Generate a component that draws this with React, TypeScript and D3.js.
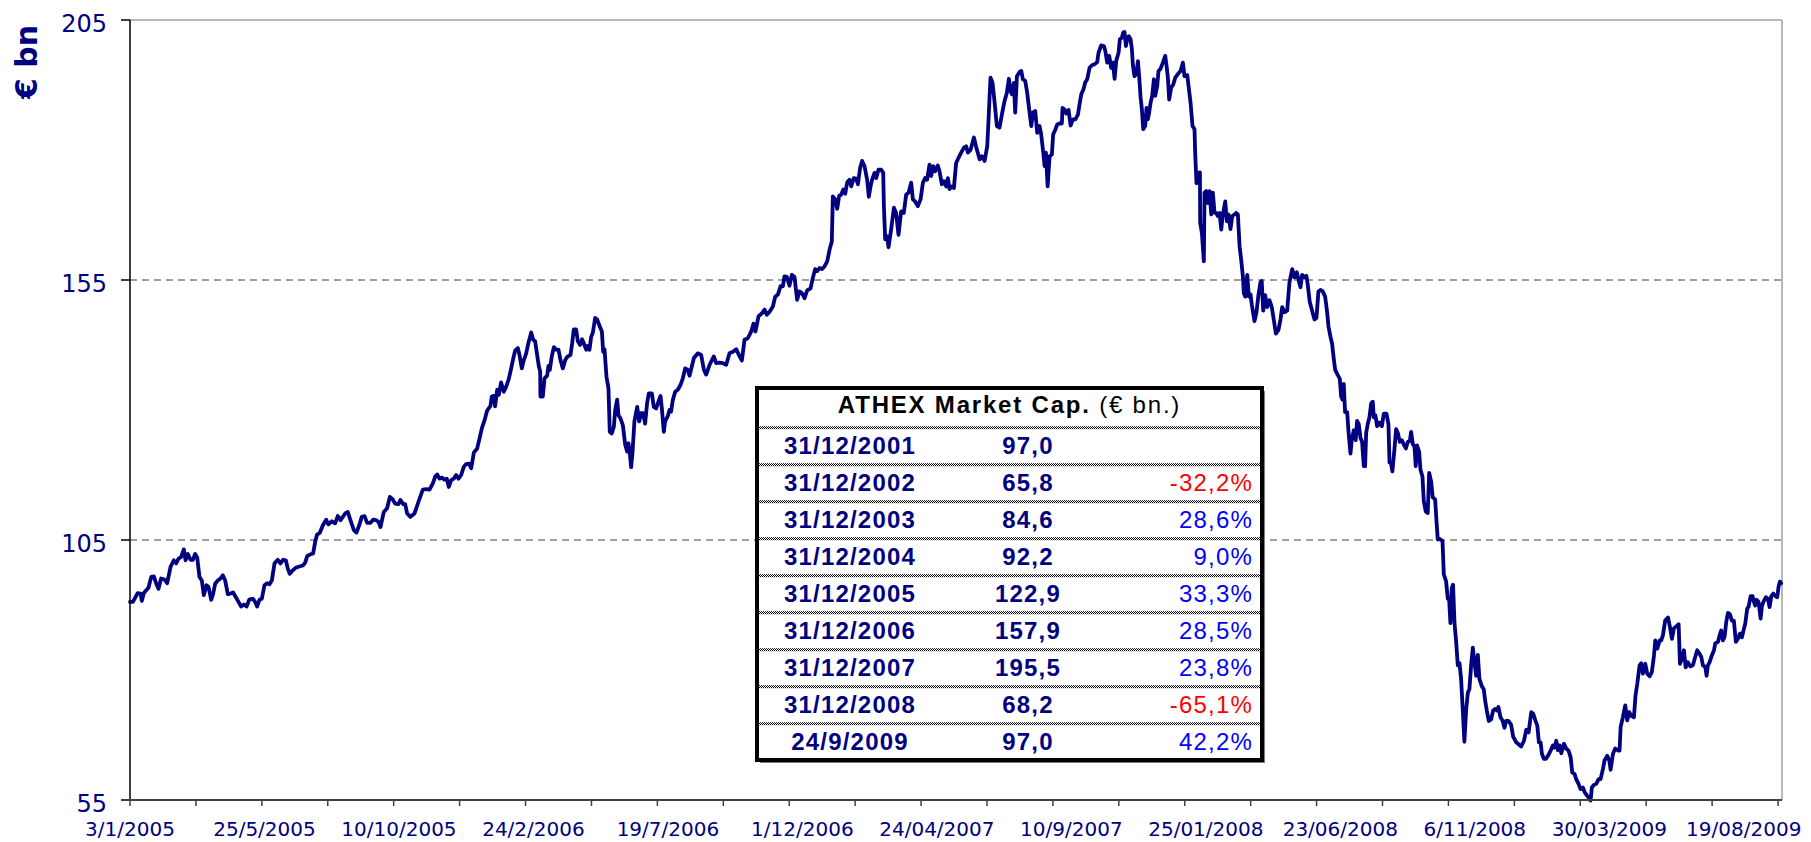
import React from 'react';
import * as d3 from 'd3';

// ATHEX market capitalisation (€ bn), trading-day index from 3/1/2005
const capSeries: [number, number][] = [
  [0,93.1],[2.2,93.1],[5.9,94.8],[8,94.7],[9,93.3],[10.5,94.8],[14,95.8],[16.1,97.9],[18.1,98.0],[19.8,96.7],[21.6,95.6],[23.6,97.6],[26.2,97.4],[28.2,96.7],[30.7,99.8],[33.2,101.1],[35,100.5],[36.8,101.4],[38.8,101.75],[40.8,103.2],[42.1,101.1],[43.9,102.3],[45.9,101.2],[47.7,101.2],[49.4,102.3],[51,101.6],[52.7,97.9],[54.5,97.2],[56,94.4],[58,96.3],[59.5,96.0],[61.6,93.5],[63.1,94.7],[64.6,96.6],[66.6,97.2],[68.6,97.6],[70.4,98.2],[72.2,97.2],[74.2,94.6],[76.2,94.7],[78.2,94.9],[80.3,94.0],[82.3,93.1],[84.3,92.2],[86.3,92.6],[88.4,92.2],[90.6,93.6],[93.2,93.7],[94.9,93.1],[96.4,92.2],[98.2,93.5],[100,93.7],[102,96.3],[104,96.7],[105.8,96.5],[107.6,97.2],[109.6,100.5],[112.1,101.2],[114.1,100.5],[116.2,101.2],[118.2,101.1],[119.7,99.5],[121.2,98.5],[123.5,99.2],[126,99.7],[128.5,99.9],[131.1,100.1],[132.8,100.6],[134.4,101.9],[136.4,102.2],[138.9,102.4],[140.4,104.6],[141.9,106.05],[144,106.4],[146.2,107.8],[148.8,108.9],[150.5,108.0],[153.1,108.6],[155.6,108.2],[157.6,109.6],[159.7,108.8],[161.4,109.45],[163.2,110.1],[165.2,110.4],[167.2,108.8],[169.8,106.9],[171.8,106.4],[173.8,107.8],[175.8,109.45],[177.9,109.6],[179.9,108.3],[182.4,108.3],[184.4,108.9],[186.7,108.8],[188.5,108.5],[190,107.5],[192.5,110.4],[195,111.1],[197.1,113.3],[199.3,112.8],[201.1,112.0],[203.6,111.9],[205.1,112.7],[207.2,111.9],[208.7,111.9],[210.2,110.1],[212.7,109.45],[215.8,110.1],[219,112.5],
  [222.1,114.7],[224.6,114.8],[227.2,114.7],[229.7,115.9],[231.5,117.2],[233,117.6],[234.7,116.8],[236.5,117.0],[238.5,116.6],[240.3,116.8],[241.8,115.2],[243.6,116.5],[245.6,116.8],[247.4,117.5],[249.2,116.8],[251.2,117.5],[253.2,119.1],[255,119.6],[257,119.7],[258.8,118.8],[260.8,121.8],[263.3,122.6],[265.1,124.5],[266.9,126.5],[268.9,128.0],[270.9,129.9],[273.4,130.8],[274.4,132.6],[275.9,132.7],[276.9,130.7],[278.5,133.9],[279.7,132.9],[281.5,135.3],[283.5,133.5],[285.3,134.5],[287.1,135.8],[288.6,137.4],[290.4,139.6],[292.1,141.4],[294.2,141.9],[295.4,140.6],[297.2,138.0],[298.7,139.6],[300.5,140.9],[302.2,142.9],[304.3,144.9],[305.8,143.5],[307.3,143.2],[308.8,140.6],[310.1,138.4],[311.1,137.4],[311.3,132.6],[313.1,132.6],[314.4,136.1],[316.4,136.6],[317.4,138.5],[318.4,137.7],[319.9,140.3],[321.5,142.1],[323.2,141.6],[325,141.6],[326.5,139.6],[328.3,138.0],[330.1,139.6],[331.6,140.2],[334.1,140.6],[335.4,142.9],[336.6,145.5],[338.4,145.5],[339.7,143.2],[341.4,142.5],[342.9,143.6],[344.7,142.5],[346,141.6],[347.2,142.3],[348.5,141.6],[349.8,144.1],[351,144.8],[352.8,147.7],[354.3,147.4],[356.1,146.2],[357.9,145.1],[358.9,141.2],[359.9,141.7],[361.4,136.4],[362.9,134.2],[363.9,125.8],[365.4,125.5],[367,126.8],[368,130.0],[369.5,132.0],[370.5,129.0],[372,128.4],[373.8,127.1],[375.6,123.3],[377.1,122.0],[378.1,123.6],[379.1,121.7],[380.1,119.0],[381.1,121.7],[382.6,127.8],[384.7,130.6],[386.2,127.8],[387.7,129.4],[389.2,129.4],[390.7,127.4],[392.2,131.3],[393.5,133.2],[395.8,133.2],[397.3,130.6],[399.1,130.3],[400.8,131.6],[402.4,132.7],[403.4,130.3],[404.9,125.8],[405.9,127.8],[408,128.9],[409.2,130.0],[410.4,129.7],[411.7,131.9],[413.5,133.5],[415.5,133.9],[417.5,134.8],[419.3,136.1],[421.1,138.0],[423.1,137.7],[424.4,136.6],[427.7,140.0],
  [430.7,140.9],[433.2,140.6],[435.3,137.7],[437,136.8],[439.6,138.7],[442.8,140.3],[444.6,139.0],[447.1,139.1],[449.7,139.0],[452.2,138.7],[454.7,140.9],[457.3,141.2],[459.8,141.7],[461.8,140.6],[464.1,139.5],[466.1,143.5],[468.6,143.8],[471.2,145.1],[472.9,146.6],[474.4,145.1],[476.7,148.0],[479.3,148.6],[481.3,149.3],[483,148.3],[485.1,148.9],[487.6,149.9],[489.4,151.8],[491.4,152.2],[493.4,153.8],[495.2,153.8],[496.4,155.7],[498.2,155.6],[500.2,153.9],[502,156.0],[504,155.6],[506,151.2],[507.8,152.8],[509.6,152.5],[511.6,151.5],[513.6,153.0],[516.2,153.4],[517.9,155.4],[519.7,157.1],[521.2,156.7],[523,157.3],[524.8,157.1],[526.8,157.6],[528.8,158.6],[530.6,160.8],[532.3,162.4],[533.1,171.1],[534.9,170.5],[536.4,168.7],[537.9,171.2],[539.4,171.4],[541,172.4],[542.5,171.6],[544,173.8],[545.7,174.3],[547,173.0],[549,174.6],[550.8,174.5],[552.1,173.4],[553.8,176.6],[555.3,177.9],[557.1,176.9],[559.1,174.3],[560.4,171.0],[561.7,173.0],[562.9,174.3],[564.7,175.6],[566,174.6],[567.7,176.2],[569.8,176.2],[571.3,175.6],[571.8,169.2],[572.8,162.8],[574.3,163.4],[575.3,161.3],[577.3,164.7],[579.4,168.9],[581.1,167.9],[582.9,163.7],[584.9,168.2],[586.9,167.9],[588.7,171.4],[590.5,171.8],[592.5,173.7],[593.8,170.5],[595.5,170.1],[597.6,169.2],[599.6,170.5],[601.4,173.7],[603.1,174.6],[604.6,174.3],[606.4,177.2],[607.7,175.0],[609.2,176.9],[610.7,175.9],[612.7,177.0],[614,175.9],[615.8,173.4],[617.3,174.0],[619.1,173.0],[620.3,174.6],[621.6,172.5],[623.4,173.0],[624.9,172.7],[626.6,177.5],[628.4,178.5],[630.4,179.5],[632.4,180.4],[634.2,180.7],[635.5,179.5],[637.5,180.0],[638.5,180.9],[640.1,182.4],
  [641.8,180.6],[644.4,178.2],[646.1,178.8],[648.2,177.9],[650.2,180.75],[651.2,185.9],[652,190.4],[652.7,193.9],[654.2,192.95],[655.8,189.1],[657.5,184.6],[659.5,184.3],[661.3,186.8],[663.3,189.4],[665.1,191.0],[666.6,193.7],[667.9,191.3],[668.9,190.7],[670.4,192.9],[671.4,187.2],[672.7,194.2],[674.7,195.0],[676,195.2],[677.2,193.6],[679,193.3],[680.5,191.0],[682.3,187.2],[683.6,184.6],[684.8,187.2],[686.6,187.5],[688.1,183.3],[689.9,184.6],[691.1,183.0],[692.7,179.5],[693.7,176.9],[694.7,179.5],[696,173.0],[697.5,178.8],[699.2,179.1],[700.2,183.0],[701.8,183.9],[703.3,184.9],[705,185.1],[706.8,185.1],[707.3,188.1],[708.8,187.8],[710.1,187.0],[711.9,187.7],[713.4,184.7],[715.2,185.9],[717,185.9],[719,186.8],[720.2,188.8],[721.5,190.7],[723.2,191.7],[724.5,193.0],[726,193.6],[727.8,195.8],[729.6,196.3],[731.6,196.5],[733.6,196.9],[734.6,198.7],[736.6,200.1],[738.7,200.0],[739.7,199.1],[741.2,196.8],[742.7,198.1],[744.2,195.8],[745.5,196.8],[746.8,193.7],[748,197.1],[749.8,198.7],[750.8,201.3],[752.3,201.6],[753.3,202.6],[754.3,202.7],[755.4,200.0],[756.4,201.3],[757.6,201.9],[758.9,201.3],[759.9,199.4],[760.7,196.2],[761.9,194.2],[763.2,194.6],[764.5,197.1],[765.5,193.9],[766.5,190.1],[767.5,187.8],[768.5,184.0],[770,184.6],[771,188.1],[772,185.9],[773,187.2],[774.1,189.1],[775.3,190.4],[776.6,193.6],[777.6,190.4],[779.1,192.3],[780.1,195.2],[781.6,195.6],[783.4,196.8],[785.2,198.1],[786.2,196.2],[787.2,193.9],[788.2,189.7],[789.7,192.0],[791.3,192.6],[792.8,193.9],[794.8,194.6],[796.8,195.2],[798.6,196.8],[799.8,194.2],[801.9,194.4],[802.9,192.3],[804.4,189.1],[805.9,184.6],[807.4,184.0],[807.9,179.5],[808.9,173.6],[810.5,175.6],[811.5,175.7],[811.7,166.0],[813,164.0],[814.5,158.6],[815,171.8],[816.3,172.1],[817.5,169.8],[818.8,172.1],[820.1,167.6],[821.3,171.8],[822.6,167.9],[823.9,167.9],[825.1,167.3],[826.4,167.9],[827.7,164.7],[828.9,167.6],[830.7,170.1],[832,166.3],[833.2,167.6],[834.7,164.8],[836,167.3],[837.8,167.6],[839,167.9],[840.3,167.6],[841.6,161.5],[842.8,158.9],[844.1,155.7],[844.8,152.5],[845.9,151.8],[847.4,156.0],[848.6,151.8],[849.9,152.2],[850.9,150.2],
  [852.9,147.1],[854.4,148.8],[855.9,152.1],[857.4,154.5],[858.4,154.8],[859.5,149.1],[861,152.1],[862.5,149.8],[864.3,151.1],[866,149.8],[867.5,147.4],[869.1,144.7],[871.1,145.4],[872.6,147.4],[873.9,149.8],[875.6,148.8],[877.7,149.1],[879.4,154.5],[881.5,157.1],[883.2,155.5],[885,156.5],[886.5,154.8],[887.8,153.6],[889,156.0],[890.8,155.5],[892.3,155.8],[893.3,154.1],[894.8,150.8],[896.6,149.1],[898.4,147.4],[899.9,147.7],[901.4,152.8],[902.9,153.1],[904.7,152.8],[906.5,151.8],[908,148.8],[909,146.1],[910.5,144.1],[911.8,142.7],[913.1,139.7],[914.1,137.7],[916.1,136.7],[917.6,136.0],[918.6,132.6],[919.6,132.0],[920.6,135.0],[921.6,129.6],[923.2,129.6],[924.2,125.9],[925.7,121.6],[926.7,124.2],[928.2,126.1],[929.7,124.2],[930.7,127.9],[932,127.3],[933.3,124.6],[934.5,123.9],[935.8,119.2],[936.8,119.2],[937.6,125.6],[938.8,127.3],[940.1,128.6],[941.4,131.3],[942.6,131.6],[943.4,128.6],[944.6,129.0],[945.9,126.9],[947.7,127.6],[949.5,126.9],[951,129.3],[953,129.3],[954.5,127.3],[955.3,119.9],[956.5,119.7],[957.5,118.2],[959.1,122.6],[960.3,126.3],[961.6,125.6],[963.1,123.9],[964.6,124.2],[966.1,123.4],[967.7,122.6],[969.2,123.9],[970.7,124.0],[971.7,125.8],[973,123.4],[974.2,123.1],[975.2,119.2],[976.2,123.2],[977.8,121.9],[978.8,118.5],[980.3,117.2],[981.3,112.5],[982.8,110.5],[984.3,110.2],[985.4,117.9],[986.9,116.2],[988.1,113.2],[989.9,112.8],[990.9,108.8],[991.9,105.1],[993.4,105.2],[995.5,104.8],[996.5,98.4],[998.2,97.1],[999.5,93.7],[1000.5,93.7],[1001.5,89.0],[1002.5,95.7],[1003.5,96.4],[1004.6,89.0],[1005.8,85.6],[1007.1,80.9],[1008.4,81.3],[1009.6,78.3],[1010.9,72.2],[1012.1,66.2],[1013.4,72.2],[1014.7,75.6],[1015.9,76.3],[1017.2,80.9],[1018.5,84.3],[1019.7,81.6],[1021,78.9],[1022.3,82.9],[1023.5,78.3],[1025.3,76.9],[1026.8,76.3],[1027.8,74.2],[1029.1,72.2],[1030.6,70.2],[1032.4,70.5],[1033.9,72.2],[1035.4,72.5],[1036.9,72.2],[1037.9,72.9],[1039.5,70.9],[1041.2,70.2],[1042.5,68.9],[1043.7,70.2],[1045.5,70.2],[1047.5,69.5],[1049.1,67.2],
  [1051.4,66.1],[1055.2,65.3],[1057.3,66.4],[1059,68.5],[1060.8,68.0],[1062.8,71.9],[1064.3,71.6],[1065.9,70.3],[1067.4,69.3],[1068.6,66.1],[1069.9,66.1],[1070.9,63.9],[1072.4,62.9],[1073.9,62.9],[1075.5,63.5],[1077.5,64.5],[1079.3,65.5],[1080.5,65.1],[1081.8,66.4],[1083,64.6],[1084.3,65.5],[1085.6,64.0],[1087.6,65.8],[1089.4,64.9],[1091.1,64.5],[1092.7,63.2],[1093.9,60.3],[1095.7,60.0],[1096.9,59.0],[1098.7,58.1],[1100.2,57.1],[1102,57.4],[1103.3,56.5],[1105.3,55.8],[1107.1,55.2],[1107.8,54.9],[1108.8,57.4],[1110.3,57.9],[1112.1,58.1],[1113.9,59.0],[1115.4,59.0],[1117.2,61.0],[1118.4,62.6],[1120.5,63.5],[1122,62.6],[1123,60.8],[1124.8,63.9],[1126.5,64.9],[1128.6,64.5],[1129.8,64.5],[1130.6,69.0],[1132.3,70.9],[1134.1,73.2],[1135.6,70.3],[1137.1,71.9],[1138.7,71.2],[1140.7,70.9],[1141.9,75.1],[1143.2,77.3],[1145,80.9],[1146.2,81.3],[1147.5,79.3],[1149.3,81.2],[1150.8,79.3],[1152.6,78.8],[1154.3,79.6],[1155.9,82.8],[1156.9,85.7],[1158.4,84.1],[1160.2,85.7],[1161.4,85.7],[1162.7,86.7],[1164.4,89.5],[1166.5,90.1],[1168,88.3],[1169.5,86.0],[1171,88.0],[1172.8,88.4],[1174.6,88.8],[1175.6,81.2],[1177.1,82.2],[1178.6,83.8],[1179.9,80.5],[1181.6,81.5],[1183.4,80.7],[1185.4,80.9],[1187.2,82.5],[1188.7,83.8],[1190.5,83.1],[1191.8,82.5],[1193,80.9],[1194.8,80.6],[1195.8,78.9],[1196.8,80.9],[1198.1,81.5],[1199.8,82.8],[1201.4,83.8],[1202.4,85.1],[1204.4,85.4],[1205.7,86.7],[1206.9,87.6],[1208.2,85.7],[1209.4,86.3],[1210.7,89.2],[1212,91.0],[1213.5,90.7],[1215,89.5],[1216.5,89.5],[1218,85.4],[1219.6,86.0],[1221.1,87.0],[1222.6,86.3],[1224.1,87.9],[1225.1,88.9],[1226.6,91.8],[1227.7,92.2],[1229.2,94.2],[1230.7,94.2],[1231.7,93.1],[1232.7,92.4],[1233.7,93.5],[1235.2,93.1],[1236.8,89.9],[1237.8,92.4],[1239.3,93.3],[1240.8,94.0],[1242.3,93.7],[1243.6,92.1],[1244.9,94.2],[1246.4,94.7],[1247.9,94.2],[1249.4,94.0],[1250.4,96.0],[1251.4,97.0],[1252.4,96.7],
];

const totalDays = 1253;
const xTickStep = 50;
const xLabelDays = [0, 102, 204, 306, 408, 510, 612, 714, 816, 918, 1020, 1122, 1224];
const xLabels = ['3/1/2005', '25/5/2005', '10/10/2005', '24/2/2006', '19/7/2006', '1/12/2006', '24/04/2007', '10/9/2007', '25/01/2008', '23/06/2008', '6/11/2008', '30/03/2009', '19/08/2009'];
const yTicks = [55, 105, 155, 205];
const gridValues = [105, 155];

const tableDates = ['31/12/2001', '31/12/2002', '31/12/2003', '31/12/2004', '31/12/2005', '31/12/2006', '31/12/2007', '31/12/2008', '24/9/2009'];
const tableValues = ['97,0', '65,8', '84,6', '92,2', '122,9', '157,9', '195,5', '68,2', '97,0'];
const tableChanges = ['', '-32,2%', '28,6%', '9,0%', '33,3%', '28,5%', '23,8%', '-65,1%', '42,2%'];

const NAVY = '#000080';
const AXISFONT = '"DejaVu Sans", Verdana, sans-serif';
const TABLEFONT = '"Liberation Sans", Arial, sans-serif';

export default function App() {
  const W = 1811, H = 842;
  const left = 130, right = 1782, top = 20, bottom = 800;
  const x = d3.scaleLinear().domain([0, totalDays]).range([left, right]);
  const y = d3.scaleLinear().domain([55, 205]).range([bottom, top]);
  const line = d3.line<[number, number]>().x(d => x(d[0])).y(d => y(d[1]));
  const tickDays = d3.range(0, totalDays, xTickStep);

  // table geometry
  const tx0 = 757, tx1 = 1262, ty0 = 388, ty1 = 760;
  const firstSep = 427.7, rowH = 37;
  const seps = tableDates.map((_, i) => firstSep + i * rowH);

  return (
    <svg width={W} height={H} style={{ position: 'absolute', left: 0, top: 0, background: '#fff' }}>
      <defs>
        <pattern id="chk" width="2" height="2" patternUnits="userSpaceOnUse">
          <rect x="0" y="0" width="2" height="2" fill="#fff" />
          <rect x="0" y="0" width="1" height="1" fill="#000" />
          <rect x="1" y="1" width="1" height="1" fill="#000" />
        </pattern>
      </defs>
      <rect x={0} y={0} width={W} height={H} fill="#fff" />
      {/* plot border top/right */}
      <line x1={left} x2={right} y1={top} y2={top} stroke="#a0a0a0" strokeWidth={1.5} />
      <line x1={right} x2={right} y1={top} y2={bottom} stroke="#a0a0a0" strokeWidth={1.5} />
      {/* gridlines */}
      {gridValues.map(v => (
        <line key={v} x1={left} x2={right} y1={y(v)} y2={y(v)} stroke="#404040" strokeWidth={1} strokeDasharray="7 5" />
      ))}
      {/* series */}
      <path d={line(capSeries) || ''} fill="none" stroke={NAVY} strokeWidth={3.8} strokeLinejoin="round" strokeLinecap="round" />
      {/* y axis */}
      <line x1={left} x2={left} y1={top} y2={bottom} stroke="#000" strokeWidth={1.5} />
      {yTicks.map(v => (
        <g key={v}>
          <line x1={left - 9} x2={left} y1={y(v)} y2={y(v)} stroke="#000" strokeWidth={1.5} />
          <text x={107} y={y(v) + 12} textAnchor="end" fontFamily={AXISFONT} fontSize={24} fill={NAVY}>{v}</text>
        </g>
      ))}
      <text transform="translate(37,62) rotate(-90)" textAnchor="middle" fontFamily={AXISFONT} fontWeight="bold" fontSize={30} fill={NAVY}>€ bn</text>
      {/* x axis */}
      <line x1={left - 9} x2={right} y1={bottom} y2={bottom} stroke="#404040" strokeWidth={2} />
      {tickDays.map(d => (
        <line key={d} x1={x(d)} x2={x(d)} y1={bottom} y2={bottom + 6} stroke="#404040" strokeWidth={1.5} />
      ))}
      {xLabelDays.map((d, i) => (
        <text key={d} x={x(d)} y={836} textAnchor="middle" fontFamily={AXISFONT} fontSize={20} fill={NAVY}>{xLabels[i]}</text>
      ))}
      {/* table */}
      <rect x={tx0 + 3} y={ty0 + 3} width={tx1 - tx0} height={ty1 - ty0} fill="#808080" />
      <rect x={tx0} y={ty0} width={tx1 - tx0} height={ty1 - ty0} fill="#fff" stroke="#000" strokeWidth={4} />
      <text x={(tx0 + tx1) / 2} y={413} textAnchor="middle" fontFamily={TABLEFONT} fontSize={24} fill="#000" letterSpacing={1.8}>
        <tspan fontWeight="bold">ATHEX Market Cap.</tspan>
        <tspan> (€ bn.)</tspan>
      </text>
      {seps.map((s, i) => (
        <g key={i}>
          <rect x={tx0 + 2} y={s - 1.5} width={tx1 - tx0 - 4} height={3} fill="url(#chk)" />
          <text x={850} y={s + 26} textAnchor="middle" fontFamily={TABLEFONT} fontWeight="bold" fontSize={24} letterSpacing={1.2} fill={NAVY}>{tableDates[i]}</text>
          <text x={1028} y={s + 26} textAnchor="middle" fontFamily={TABLEFONT} fontWeight="bold" fontSize={24} letterSpacing={1.2} fill={NAVY}>{tableValues[i]}</text>
          {tableChanges[i] && (
            <text x={1253} y={s + 26} textAnchor="end" fontFamily={TABLEFONT} fontSize={24} letterSpacing={1.2} fill={tableChanges[i].startsWith('-') ? '#ff0000' : '#0000ff'}>{tableChanges[i]}</text>
          )}
        </g>
      ))}
    </svg>
  );
}
